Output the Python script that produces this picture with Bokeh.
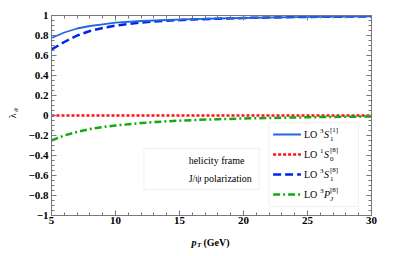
from bokeh.plotting import figure
from bokeh.models import (LinearAxis, FixedTicker, CustomJSTickFormatter, Label,
                          BoxAnnotation, Arrow, Range1d)
from bokeh.layouts import column, row
from bokeh.embed import file_html
from bokeh.resources import INLINE
import numpy as np

# ---- data ----
pt = [5, 6, 7, 8, 9, 10, 12, 14, 16, 18, 20, 22, 24, 26, 28, 30]
lam_3S1_1 = [0.775, 0.83, 0.87, 0.895, 0.912, 0.928, 0.945, 0.955, 0.963, 0.97, 0.975, 0.98, 0.984, 0.987, 0.989, 0.991]
lam_1S0_8 = [0.0] * len(pt)
lam_3S1_8 = [0.66, 0.735, 0.80, 0.845, 0.875, 0.90, 0.93, 0.948, 0.96, 0.968, 0.975, 0.98, 0.984, 0.987, 0.989, 0.991]
lam_3PJ_8 = [-0.25, -0.20, -0.165, -0.135, -0.115, -0.10, -0.075, -0.058, -0.046, -0.037, -0.03, -0.025, -0.02, -0.016, -0.013, -0.01]

x_ticks = [5, 10, 15, 20, 25, 30]
y_ticks = [-1.0, -0.8, -0.6, -0.4, -0.2, 0.0, 0.2, 0.4, 0.6, 0.8, 1.0]

SERIF = "Liberation Serif"

# layout in page pixels
YL_W = 25                 # strip holding the y-axis title
L, T = 49, 15             # frame left/top in page pixels
FW, FH = 322, 200
PW = 400 - YL_W
PH = 233
XL_H = 15                 # strip holding the x-axis title
BL = L - YL_W
BR = PW - BL - FW
BB = PH - T - FH

p = figure(width=PW, height=PH, output_backend="svg", toolbar_location=None,
           x_range=Range1d(5, 30), y_range=Range1d(-1, 1),
           min_border_left=BL, min_border_right=BR, min_border_top=T, min_border_bottom=BB,
           x_axis_type=None, y_axis_type=None)
p.grid.visible = False
p.outline_line_color = "#777777"
p.background_fill_color = "white"
p.border_fill_color = "white"

xmin_ticks = [v for v in np.arange(5, 30.01, 1.0) if v not in x_ticks]
ymin_ticks = [round(v, 2) for v in np.arange(-1, 1.001, 0.05) if all(abs(v - t) > 1e-6 for t in y_ticks)]
xt = FixedTicker(ticks=x_ticks, minor_ticks=xmin_ticks)
yt = FixedTicker(ticks=y_ticks, minor_ticks=ymin_ticks)

yfmt = CustomJSTickFormatter(code="""
if (Math.abs(tick) < 1e-9) return '0';
const s = (Math.round(tick*10)/10).toString();
return s.replace('-', '\u2212');
""")
blank = CustomJSTickFormatter(code="return '';")

def style(ax, standoff):
    ax.axis_line_color = "#777777"
    ax.major_tick_line_color = "#777777"
    ax.minor_tick_line_color = "#777777"
    ax.major_tick_in = 5
    ax.major_tick_out = 0
    ax.minor_tick_in = 3
    ax.minor_tick_out = 0
    ax.major_label_text_font = SERIF
    ax.major_label_text_font_style = "bold"
    ax.major_label_text_color = "black"
    ax.major_label_text_font_size = "11px"
    ax.major_label_standoff = standoff

bx = LinearAxis(ticker=xt); style(bx, 1)
lx = LinearAxis(ticker=yt, formatter=yfmt); style(lx, 3)
tx = LinearAxis(ticker=xt, formatter=blank); style(tx, 0)
rx = LinearAxis(ticker=yt, formatter=blank); style(rx, 0)
p.add_layout(bx, "below")
p.add_layout(lx, "left")
p.add_layout(tx, "above")
p.add_layout(rx, "right")

# ---- curves ----
c_s1 = "#2266dd"
c_d8 = "#0022ee"
c_red = "#ff1111"
c_grn = "#11aa11"
p.line(pt, lam_1S0_8, line_color=c_red, line_width=2.5, line_dash="3 2")
p.line(pt, lam_3PJ_8, line_color=c_grn, line_width=2.5, line_dash="7 3 2 3")
p.line(pt, lam_3S1_8, line_color=c_d8, line_width=2.5, line_dash="8 4")
p.line(pt, lam_3S1_1, line_color=c_s1, line_width=1.8)

# page pixel -> data helpers for annotation placement
def dx(px):
    return 5 + (px - L) / FW * 25.0
def dy(py):
    return 1 - (py - T) / FH * 2.0

common = dict(text_font=SERIF, text_baseline="middle", text_align="left", text_color="black")

# ---- text box ----
p.add_layout(BoxAnnotation(left=dx(142), right=dx(258), top=dy(148), bottom=dy(189),
                           fill_color="white", fill_alpha=1, line_color="#cccccc", line_width=1))
for txt, yy in [("helicity frame", 160), ("J/ψ polarization", 178)]:
    p.add_layout(Label(x=dx(187), y=dy(yy), text=txt, text_font_size="10px", **common))

# ---- legend ----
p.add_layout(BoxAnnotation(left=dx(268), right=dx(358), top=dy(122), bottom=dy(206),
                           fill_color="white", fill_alpha=1, line_color="#cccccc", line_width=1))
entries = [
    ("3", "S", "1", "[1]", c_s1, None, 1.8),
    ("1", "S", "0", "[8]", c_red, "3 2", 2.5),
    ("3", "S", "1", "[8]", c_d8, "8 4", 2.5),
    ("3", "P", "J", "[8]", c_grn, "7 3 2 3", 2.5),
]
for i, (pre, letter, sub, sup, col, dash, lw) in enumerate(entries):
    yy = dy(134 + 20 * i)
    kw = dict(line_color=col, line_width=lw)
    if dash:
        kw["line_dash"] = dash
    p.add_layout(Arrow(end=None, start=None, x_start=dx(272), x_end=dx(300),
                       y_start=yy, y_end=yy, **kw))
    x0 = dx(303)
    p.add_layout(Label(x=x0, y=yy, text="LO", text_font_size="10px", **common))
    p.add_layout(Label(x=x0, y=yy, x_offset=16, y_offset=4, text=pre, text_font_size="7px", **common))
    p.add_layout(Label(x=x0, y=yy, x_offset=20, text=letter, text_font_size="10px",
                       text_font_style="italic", **common))
    p.add_layout(Label(x=x0, y=yy, x_offset=26, y_offset=5, text=sup, text_font_size="7px", **common))
    p.add_layout(Label(x=x0, y=yy, x_offset=26, y_offset=-4, text=sub, text_font_size="7px",
                       text_font_style="italic" if sub == "J" else "normal", **common))

# ---- strips for the axis titles ----
def strip(w, h):
    f = figure(width=w, height=h, output_backend="svg", toolbar_location=None,
               x_range=Range1d(0, w), y_range=Range1d(0, h),
               min_border=0, x_axis_type=None, y_axis_type=None)
    f.grid.visible = False
    f.outline_line_color = None
    f.background_fill_color = "white"
    f.border_fill_color = "white"
    return f

fy = strip(YL_W, PH)
fy.add_layout(Label(x=12, y=PH - 117, text="λ", text_font_size="10px", angle=np.pi / 2,
                    **dict(common, text_align="center")))
fy.add_layout(Label(x=15, y=PH - 110, text="θ", text_font_style="italic", text_font_size="7px",
                    angle=np.pi / 2, **dict(common, text_align="center")))

fx = strip(400, XL_H)
def xy(ypix):
    return XL_H - (ypix - PH)
fx.add_layout(Label(x=191, y=xy(242), text="p", text_font_style="bold italic",
                    text_font_size="10px", **common))
fx.add_layout(Label(x=196.5, y=xy(244.5), text="T", text_font_style="bold italic",
                    text_font_size="7px", **common))
fx.add_layout(Label(x=203, y=xy(242), text="(GeV)", text_font_style="bold",
                    text_font_size="10px", **common))

layout = column(row(fy, p, spacing=0), fx, spacing=0)
open("out.html", "w").write(file_html(layout, INLINE))
